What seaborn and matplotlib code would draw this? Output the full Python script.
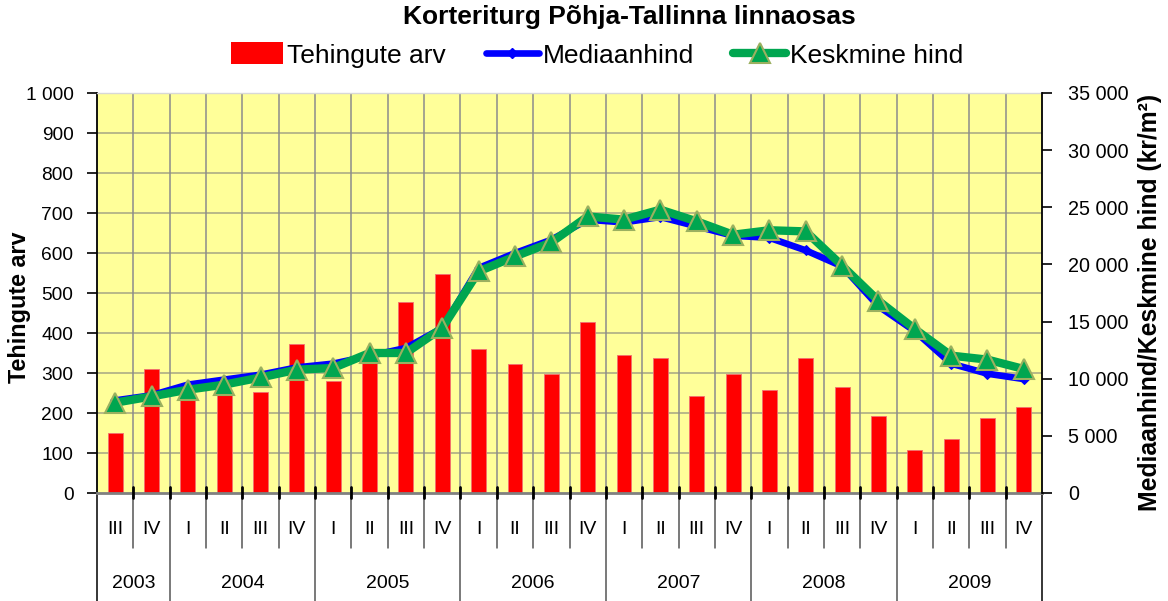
import matplotlib
matplotlib.use("Agg")
import matplotlib.pyplot as plt
import matplotlib.transforms as mtransforms
from matplotlib.lines import Line2D
from matplotlib.patches import Patch
from matplotlib.ticker import FuncFormatter, MultipleLocator
import numpy as np
import pandas as pd
import seaborn as sns

# Quarterly apartment market data, Põhja-Tallinn district
years = ["2003", "2004", "2005", "2006", "2007", "2008", "2009"]
quarters = ["III", "IV",
            "I", "II", "III", "IV",
            "I", "II", "III", "IV",
            "I", "II", "III", "IV",
            "I", "II", "III", "IV",
            "I", "II", "III", "IV",
            "I", "II", "III", "IV"]
quarters_per_year = [2, 4, 4, 4, 4, 4, 4]

deals = [150, 310, 233, 248, 252, 373, 279, 335, 478, 547,
         361, 323, 298, 428, 344, 337, 243, 298, 257, 337,
         266, 193, 108, 134, 188, 216]
median_price = [8100, 8550, 9480, 9920, 10350, 10990, 11320, 12000, 12690, 14440,
                19690, 20990, 22160, 23910, 23680, 24150, 23330, 22510, 22330, 21230,
                19830, 16340, 14160, 11320, 10440, 9970]
mean_price = [7900, 8450, 9040, 9480, 10110, 10790, 10940, 12250, 12250, 14440,
              19390, 20700, 21930, 24200, 23920, 24790, 23770, 22600, 22990, 22890,
              19890, 16820, 14350, 12020, 11670, 10850]

title = "Korteriturg Põhja-Tallinna linnaosas"
label_deals = "Tehingute arv"
label_median = "Mediaanhind"
label_mean = "Keskmine hind"
label_right = "Mediaanhind/Keskmine hind (kr/m²)"

sns.set_theme(style="white")
plt.rcParams["font.family"] = ["Liberation Sans", "DejaVu Sans"]
plt.rcParams.update({"text.color": "black", "axes.labelcolor": "black",
                     "xtick.color": "black", "ytick.color": "black"})

n = len(quarters)
pos = np.arange(n)
df = pd.DataFrame({"pos": pos, "deals": deals,
                   "median": median_price, "mean": mean_price})

fig = plt.figure(figsize=(11.68, 6.01), dpi=100)
ax = fig.add_axes([97 / 1168, 1 - 493 / 601, 945 / 1168, 400 / 601])
ax.set_facecolor("#FFFF99")
ax.set_axisbelow(True)

# bars: number of transactions
sns.barplot(data=df, x="pos", y="deals", ax=ax, color="#FF0000",
            width=0.41, saturation=1, edgecolor="#F07070", linewidth=0.6,
            order=list(pos))
ax.set_xlim(-0.5, n - 0.5)
ax.set_ylim(0, 1000)
ax.yaxis.set_major_locator(MultipleLocator(100))

thousands = FuncFormatter(lambda v, p: f"{int(v):,}".replace(",", " "))
ax.yaxis.set_major_formatter(thousands)

# gridlines
for yv in range(100, 1000, 100):
    ax.axhline(yv, color="#9A9A80", lw=1.3, alpha=0.75, zorder=0.5)
for k in range(n - 1):
    ax.axvline(k + 0.5, color="#8C8C8C", lw=1.1, zorder=0.5)

ax.set_xlabel("")
ax.set_ylabel("")
ax.set_xticks([])
ax.tick_params(axis="y", direction="out", length=7, width=1.2, color="black",
               labelcolor="black", labelsize=13.8, pad=10, left=True)
ax.spines["left"].set_color("black")
ax.spines["left"].set_linewidth(1.3)
ax.spines["bottom"].set_color("#808080")
ax.spines["bottom"].set_linewidth(2)
ax.spines["top"].set_color("#D8D8D8")
ax.spines["top"].set_linewidth(1)
ax.spines["right"].set_visible(False)

# price lines on the secondary axis
ax2 = ax.twinx()
ax2.patch.set_visible(False)
sns.lineplot(data=df, x="pos", y="median", ax=ax2, color="#0000FF", lw=4.8,
             marker="D", markersize=5, markeredgecolor="#0000FF", zorder=3)
sns.lineplot(data=df, x="pos", y="mean", ax=ax2, color="#00A650", lw=6,
             marker="^", markersize=15, markerfacecolor="#00A650",
             markeredgecolor="#9BB060", markeredgewidth=1.5, zorder=4)
ax2.set_ylim(0, 35000)
ax2.set_xlim(-0.5, n - 0.5)
ax2.yaxis.set_major_locator(MultipleLocator(5000))
ax2.yaxis.set_major_formatter(thousands)
ax2.set_xlabel("")
ax2.set_ylabel("")
ax2.tick_params(axis="y", direction="out", length=7, width=1.2, color="black",
                labelcolor="black", labelsize=14.2, pad=12, right=True)
for side in ["left", "top", "bottom"]:
    ax2.spines[side].set_visible(False)
ax2.spines["right"].set_color("black")
ax2.spines["right"].set_linewidth(1.3)

# category axis: quarters and years below the plot
trans = mtransforms.blended_transform_factory(ax.transData, ax.transAxes)
year_bounds = np.concatenate([[0], np.cumsum(quarters_per_year)]) - 0.5
for k in range(n + 1):
    xb = k - 0.5
    is_year = np.any(np.isclose(year_bounds, xb))
    bottom = -0.275 if is_year else -0.137
    col = "black" if xb in (-0.5, n - 0.5) else "#555555"
    ax.add_line(Line2D([xb, xb], [0, bottom], transform=trans, color=col,
                       lw=1.1, clip_on=False))
    if 0 < k < n:
        ax.add_line(Line2D([xb, xb], [0.015, -0.012], transform=trans,
                           color="black", lw=2, clip_on=False, zorder=5))
for i, q in enumerate(quarters):
    ax.text(i, -0.092, q, transform=trans, ha="center", va="center",
            fontsize=14, color="black")
for j, yr in enumerate(years):
    center = (year_bounds[j] + year_bounds[j + 1]) / 2
    ax.text(center, -0.225, yr, transform=trans, ha="center", va="center",
            fontsize=14, color="black")

# axis titles
fig.text(20 / 1168, 1 - 307 / 601, label_deals, rotation=90, ha="center",
         va="center", fontsize=16.8, fontweight="bold", color="black")
fig.text(1150 / 1168, 1 - 302 / 601, label_right, rotation=90, ha="center",
         va="center", fontsize=17.8, fontweight="bold", color="black")

fig.text(629 / 1168, 1 - 17 / 601, title, ha="center", va="center",
         fontsize=19, fontweight="bold", color="black")

handles = [
    Patch(facecolor="#FF0000", edgecolor="none"),
    Line2D([], [], color="#0000FF", lw=4.8, marker="D", markersize=5),
    Line2D([], [], color="#00A650", lw=6, marker="^", markersize=15,
           markerfacecolor="#00A650", markeredgecolor="#9BB060",
           markeredgewidth=1.5),
]
leg = fig.legend(handles, [label_deals, label_median, label_mean], loc="center",
                 bbox_to_anchor=(597 / 1168, 1 - 55 / 601), ncol=3, frameon=False,
                 fontsize=19.0, handlelength=2.0, handletextpad=0.15,
                 columnspacing=1.5, handleheight=0.9)
for t in leg.get_texts():
    t.set_color("black")

fig.savefig("out.png", dpi=100)
